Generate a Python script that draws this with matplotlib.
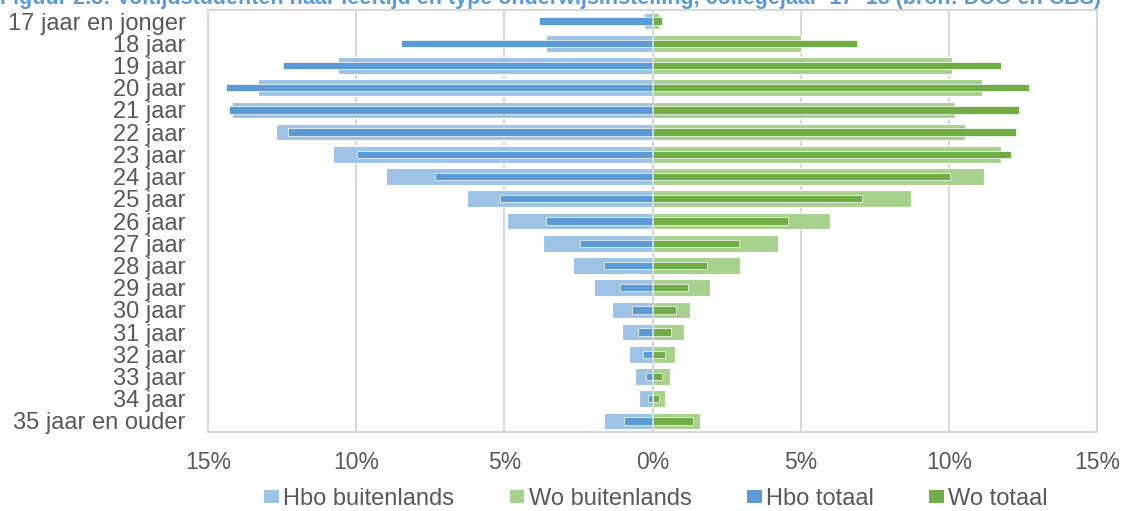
import matplotlib.pyplot as plt
from matplotlib.patches import Patch
import numpy as np

plt.rcParams['font.family'] = ['Liberation Sans', 'DejaVu Sans']

# Leeftijdscategorieën
leeftijden = ['17 jaar en jonger', '18 jaar', '19 jaar', '20 jaar', '21 jaar', '22 jaar',
              '23 jaar', '24 jaar', '25 jaar', '26 jaar', '27 jaar', '28 jaar', '29 jaar',
              '30 jaar', '31 jaar', '32 jaar', '33 jaar', '34 jaar', '35 jaar en ouder']

hbo_buitenlands = [0.28, 3.58, 10.61, 13.32, 14.19, 12.70, 10.77, 8.98, 6.26, 4.90, 3.71,
                   2.67, 1.96, 1.37, 1.03, 0.78, 0.59, 0.45, 1.64]
wo_buitenlands = [0.22, 5.01, 10.11, 11.12, 10.21, 10.55, 11.77, 11.20, 8.73, 5.98, 4.24,
                  2.96, 1.95, 1.27, 1.05, 0.77, 0.59, 0.41, 1.60]
hbo_totaal = [3.82, 8.49, 12.48, 14.39, 14.29, 12.30, 9.97, 7.33, 5.14, 3.59, 2.46,
              1.62, 1.08, 0.70, 0.49, 0.32, 0.23, 0.15, 0.95]
wo_totaal = [0.32, 6.91, 11.77, 12.70, 12.36, 12.26, 12.09, 10.03, 7.08, 4.57, 2.92,
             1.84, 1.19, 0.79, 0.61, 0.42, 0.32, 0.22, 1.35]

reeksen = ['Hbo buitenlands', 'Wo buitenlands', 'Hbo totaal', 'Wo totaal']
kleuren = ['#9dc3e6', '#a9d18e', '#5b9bd5', '#70ad47']

titel = "Figuur 2.3: Voltijdstudenten naar leeftijd en type onderwijsinstelling, collegejaar '17-'18 (bron: DUO en CBS)"

y = np.arange(len(leeftijden))
grijs = '#595959'

fig = plt.figure(figsize=(11.23, 5.11), dpi=100)
ax = fig.add_axes([208 / 1123, 1 - 432 / 511, (1097 - 208) / 1123, (432 - 10) / 511])

# brede balken: buitenlands, smalle balken: totaal (hbo links, wo rechts)
ax.barh(y, [-v for v in hbo_buitenlands], height=0.75, color=kleuren[0], edgecolor='white',
        linewidth=0.8, zorder=2)
ax.barh(y, wo_buitenlands, height=0.75, color=kleuren[1], edgecolor='white',
        linewidth=0.8, zorder=2)
ax.barh(y, [-v for v in hbo_totaal], height=0.33, color=kleuren[2], edgecolor='white',
        linewidth=0.5, zorder=3)
ax.barh(y, wo_totaal, height=0.33, color=kleuren[3], edgecolor='white',
        linewidth=0.5, zorder=3)

ax.axvline(0, color='#d9d9d9', linewidth=1.2, zorder=4)

ax.set_xlim(-15, 15)
ax.set_ylim(len(leeftijden) - 0.5, -0.5)
ax.set_xticks([-15, -10, -5, 0, 5, 10, 15])
ax.set_xticklabels(['15%', '10%', '5%', '0%', '5%', '10%', '15%'])
ax.set_yticks(y)
ax.set_yticklabels(leeftijden)
ax.tick_params(axis='y', length=0, labelsize=17, labelcolor=grijs, pad=16)
ax.tick_params(axis='x', length=0, labelsize=16.5, labelcolor=grijs, pad=14)
ax.grid(axis='x', color='#d9d9d9', linewidth=1.5, zorder=0)
ax.set_axisbelow(True)
for s in ax.spines.values():
    s.set_color('#d9d9d9')
    s.set_linewidth(1.5)

handles = [Patch(facecolor=k, edgecolor='none', label=r) for k, r in zip(kleuren, reeksen)]
fig.legend(handles=handles, loc='center', ncol=4, frameon=False, fontsize=17, labelcolor=grijs,
           handlelength=0.62, handleheight=0.5, handletextpad=0.18, columnspacing=2.35,
           borderpad=0, bbox_to_anchor=(656 / 1123, 12 / 511))

fig.text(0.0, 1 - 4 / 511, titel, color='#5b9bd5', fontweight='bold', fontsize=15.5,
         va='baseline', ha='left')

fig.savefig('out.png', dpi=100)
